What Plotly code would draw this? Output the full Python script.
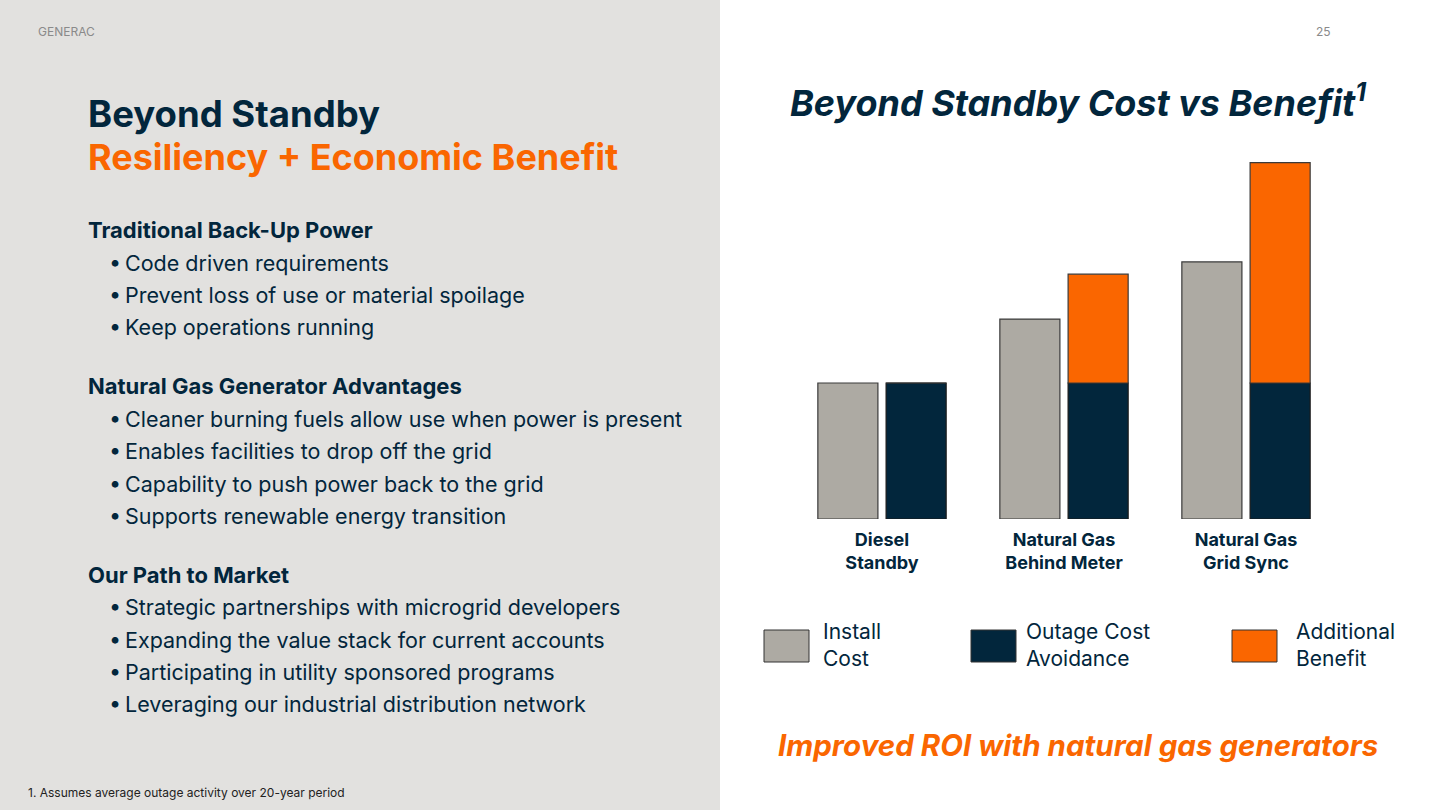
import plotly.graph_objects as go

# ---------------- data ----------------
categories = ["Diesel<br>Standby", "Natural Gas<br>Behind Meter", "Natural Gas<br>Grid Sync"]
series_names = ["Install<br>Cost", "Outage Cost<br>Avoidance", "Additional<br>Benefit"]
install_cost = [1.00, 1.47, 1.89]
outage_cost_avoidance = [1.00, 1.00, 1.00]
additional_benefit = [0.00, 0.80, 1.62]

# ---------------- styles ----------------
W, H = 1440, 810
GRAY = "#ADAAA3"
NAVY = "#02263C"
ORANGE = "#FA6600"
PANEL = "#E2E1DF"
FONT = "Inter"


def py(y):
    return 1 - y / H


def pxx(x):
    return x / W


fig = go.Figure()
fig.add_trace(go.Bar(x=categories, y=install_cost, name=series_names[0], offsetgroup="a",
                     marker=dict(color=GRAY, line=dict(color="#3a3a3a", width=1.2))))
fig.add_trace(go.Bar(x=categories, y=outage_cost_avoidance, name=series_names[1], offsetgroup="b",
                     marker=dict(color=NAVY, line=dict(color="#1a1a1a", width=1.2))))
fig.add_trace(go.Bar(x=categories, y=additional_benefit, base=outage_cost_avoidance,
                     name=series_names[2], offsetgroup="b",
                     marker=dict(color=ORANGE, line=dict(color="#3a3a3a", width=1.2))))

shapes = [
    dict(type="rect", xref="paper", yref="paper", x0=0, x1=pxx(720), y0=0, y1=1,
         fillcolor=PANEL, line=dict(width=0), layer="below"),
]

annotations = []


def txt(x, y, text, size, color=NAVY, bold=False, italic=False, anchor="left", family=FONT):
    t = text
    if bold:
        t = "<b>" + t + "</b>"
    if italic:
        t = "<i>" + t + "</i>"
    annotations.append(dict(x=pxx(x), y=py(y), xref="paper", yref="paper", text=t,
                            showarrow=False, xanchor=anchor, yanchor="middle", align="left",
                            font=dict(size=size, color=color, family=family)))


txt(36, 31, "GENERAC", 12, color="#8a8a8a")
txt(1333, 31, "25", 12, color="#8a8a8a", anchor="right")
txt(86, 114, "Beyond Standby", 36.5, bold=True)
txt(86, 157, "Resiliency + Economic Benefit", 36, color=ORANGE, bold=True)

sections = [
    (230, "Traditional Back-Up Power",
     [(263, "Code driven requirements"), (295, "Prevent loss of use or material spoilage"),
      (327, "Keep operations running")]),
    (386, "Natural Gas Generator Advantages",
     [(419, "Cleaner burning fuels allow use when power is present"),
      (451, "Enables facilities to drop off the grid"),
      (484, "Capability to push power back to the grid"),
      (516, "Supports renewable energy transition")]),
    (575, "Our Path to Market",
     [(607, "Strategic partnerships with microgrid developers"),
      (640, "Expanding the value stack for current accounts"),
      (672, "Participating in utility sponsored programs"),
      (704, "Leveraging our industrial distribution network")]),
]
for hy, head, items in sections:
    txt(86, hy, head, 22, bold=True)
    for iy, it in items:
        txt(107, iy, "\u2022\u2009" + it, 21.5)

txt(26, 792, "1. Assumes average outage activity over 20-year period", 12, color="#222222")

txt(1078, 101, "Beyond Standby Cost vs Benefit<sup>1</sup>", 36, bold=True, italic=True, anchor="center")
txt(1078, 745, "Improved ROI with natural gas generators", 29.5, color=ORANGE, bold=True, italic=True,
    anchor="center")

# custom legend
legend_pos = [(764, 821), (971, 1024), (1232, 1294)]
legend_cols = [GRAY, NAVY, ORANGE]
for (sx, tx), col, name in zip(legend_pos, legend_cols, series_names):
    shapes.append(dict(type="rect", xref="paper", yref="paper", x0=pxx(sx), x1=pxx(sx + 45),
                       y0=py(662), y1=py(630), fillcolor=col, line=dict(color="#333333", width=1)))
    txt(tx, 645, name, 21)

fig.update_layout(
    width=W, height=H,
    margin=dict(l=0, r=0, t=0, b=0),
    paper_bgcolor="white", plot_bgcolor="rgba(0,0,0,0)",
    barmode="group", bargap=0.25, bargroupgap=0.12,
    showlegend=False,
    shapes=shapes, annotations=annotations,
    xaxis=dict(domain=[pxx(791), pxx(1337)], showgrid=False, zeroline=False, showline=False,
               ticks="", tickfont=dict(size=18, color=NAVY, family=FONT),
               ticklabelstandoff=8),
    yaxis=dict(domain=[py(519), py(519 - 2.7 * 136)], range=[0, 2.7], visible=False),
    font=dict(family=FONT),
)
fig.update_xaxes(tickvals=categories,
                 ticktext=["<b>" + c.replace("<br>", "</b><br><b>") + "</b>" for c in categories])

fig.write_html("out.html", config={"displayModeBar": False},
               post_script="document.body.style.margin='0';document.body.style.overflow='hidden';")
